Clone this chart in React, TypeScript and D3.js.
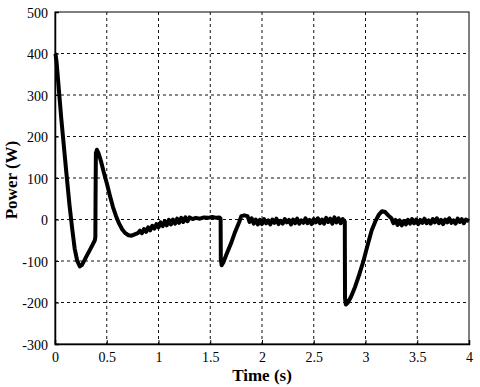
import { useEffect, useRef } from "react";
import * as d3 from "d3";

// time (s) / power (W)
const startup = [
  [0, 400], [0.005, 398], [0.015, 380], [0.025, 350], [0.04, 305], [0.06, 245], [0.08, 192],
  [0.11, 112], [0.14, 35], [0.165, -20], [0.19, -70], [0.215, -100], [0.24, -113],
  [0.26, -110], [0.285, -98], [0.31, -86], [0.34, -72], [0.365, -60], [0.385, -50],
  [0.39, -42], [0.392, 60], [0.395, 160], [0.405, 168], [0.42, 160], [0.445, 140],
  [0.47, 115], [0.5, 88], [0.53, 58], [0.56, 30], [0.59, 8], [0.62, -10], [0.65, -24],
  [0.68, -33], [0.71, -38], [0.74, -39], [0.77, -36],
];

const settle1 = [
  [0.8, -33], [0.82, -27], [0.84, -33], [0.86, -23], [0.88, -30], [0.9, -19], [0.92, -26],
  [0.94, -15], [0.96, -22], [0.98, -11], [1.0, -19], [1.02, -7], [1.04, -16], [1.06, -4],
  [1.08, -14], [1.1, -1], [1.12, -12], [1.14, 0], [1.16, -10], [1.18, 2], [1.2, -8],
  [1.22, 4], [1.24, -6], [1.26, 5], [1.28, -4], [1.3, 5], [1.33, 1], [1.36, 4], [1.4, 2],
  [1.44, 5], [1.48, 4], [1.52, 6], [1.56, 4], [1.59, 5],
];

const step1 = [
  [1.6, 2], [1.602, -95], [1.61, -110], [1.625, -104], [1.66, -82], [1.7, -58],
  [1.74, -30], [1.78, -6], [1.8, 8], [1.83, 10], [1.86, 8],
];

const settle2 = [
  [1.88, -6], [1.9, 3], [1.92, -10], [1.94, 0], [1.96, -12], [1.98, -1], [2.0, -11], [2.02, 1],
  [2.04, -9], [2.06, -2], [2.08, -12], [2.1, 0], [2.12, -8], [2.14, 2], [2.16, -11], [2.18, -3],
  [2.2, -10], [2.22, 1], [2.24, -7], [2.26, -1], [2.28, -12], [2.3, 0], [2.32, -9], [2.34, 2],
  [2.36, -10], [2.38, -2], [2.4, -8], [2.42, 3], [2.44, -9], [2.46, -1], [2.48, -11], [2.5, 1],
  [2.52, -7], [2.54, 3], [2.56, -9], [2.58, 0], [2.6, -10], [2.62, 4], [2.64, -6], [2.66, 2],
  [2.68, -10], [2.7, 5], [2.72, -7], [2.74, 3], [2.76, -9], [2.78, 1], [2.795, -5],
];

const step2 = [
  [2.8, -5], [2.802, -190], [2.81, -205], [2.83, -200], [2.86, -186], [2.9, -162],
  [2.94, -132], [2.98, -100], [3.02, -62], [3.06, -26], [3.1, -2], [3.13, 12], [3.16, 20],
  [3.19, 18], [3.22, 10], [3.25, 3],
];

const settle3 = [
  [3.27, -9], [3.29, -1], [3.31, -13], [3.33, -2], [3.35, -14], [3.37, -4], [3.39, -12],
  [3.41, -1], [3.43, -10], [3.45, 1], [3.47, -9], [3.49, 0], [3.51, -11], [3.53, -1],
  [3.55, -8], [3.57, 2], [3.59, -9], [3.61, -2], [3.63, -10], [3.65, 1], [3.67, -7],
  [3.69, 3], [3.71, -9], [3.73, -1], [3.75, -11], [3.77, 0], [3.79, -7], [3.81, 3],
  [3.83, -8], [3.85, -2], [3.87, -10], [3.89, 2], [3.91, -6], [3.93, 1], [3.95, -9],
  [3.97, 0], [4.0, -4],
];

const xTicks = [0, 0.5, 1, 1.5, 2, 2.5, 3, 3.5, 4];
const yTicks = [-300, -200, -100, 0, 100, 200, 300, 400, 500];

const serif = "Liberation Serif, Times New Roman, serif";

const App = () => {
  const container = useRef<SVGSVGElement>(null);

  useEffect(() => {
    const svg = d3.select(container.current);
    svg.selectAll("*").remove();

    const left = 55, right = 469, top = 12, bottom = 344;

    const x = d3.scaleLinear().domain([0, 4]).range([left, right]);
    const y = d3.scaleLinear().domain([-300, 500]).range([bottom, top]);

    svg.append("rect")
      .attr("width", 480).attr("height", 387)
      .style("fill", "#fff");

    // dashed grid
    svg.append("g")
      .selectAll("line")
      .data(xTicks.slice(1, -1))
      .join("line")
      .attr("x1", (d) => x(d)).attr("x2", (d) => x(d))
      .attr("y1", top).attr("y2", bottom)
      .style("stroke", "#111").style("stroke-dasharray", "3,3");

    svg.append("g")
      .selectAll("line")
      .data(yTicks.slice(1, -1))
      .join("line")
      .attr("x1", left).attr("x2", right)
      .attr("y1", (d) => y(d)).attr("y2", (d) => y(d))
      .style("stroke", "#111").style("stroke-dasharray", "3,3");

    const trace = [...startup, ...settle1, ...step1, ...settle2, ...step2, ...settle3];
    const line = d3.line<number[]>()
      .x((d) => x(d[0]))
      .y((d) => y(d[1]));

    svg.append("path")
      .datum(trace)
      .attr("d", line)
      .style("fill", "none")
      .style("stroke", "#000")
      .style("stroke-width", 4)
      .style("stroke-linejoin", "round");

    // box
    svg.append("rect")
      .attr("x", left).attr("y", top)
      .attr("width", right - left).attr("height", bottom - top)
      .style("fill", "none").style("stroke", "#000").style("stroke-width", 1);

    const xAxis = svg.append("g")
      .attr("transform", `translate(0,${bottom})`)
      .call(d3.axisBottom(x).tickValues(xTicks).tickSize(-4).tickPadding(8)
        .tickFormat((d) => String(d)));
    const yAxis = svg.append("g")
      .attr("transform", `translate(${left},0)`)
      .call(d3.axisLeft(y).tickValues(yTicks).tickSize(-4).tickPadding(7)
        .tickFormat((d) => String(d)));

    [xAxis, yAxis].forEach((g) => {
      g.attr("font-family", serif).attr("font-size", 14);
      g.select(".domain").style("stroke", "#000").style("stroke-width", 1.5);
      g.selectAll(".tick line").style("stroke", "#000");
      g.selectAll("text").attr("fill", "#000");
    });
    yAxis.selectAll("text").attr("dy", "0.36em");

    svg.append("text")
      .attr("x", 262).attr("y", 381)
      .attr("text-anchor", "middle")
      .attr("font-family", serif)
      .attr("font-size", 17).attr("font-weight", "bold")
      .text("Time (s)");

    svg.append("text")
      .attr("transform", "translate(17,180) rotate(-90)")
      .attr("text-anchor", "middle")
      .attr("font-family", serif)
      .attr("font-size", 17).attr("font-weight", "bold")
      .text("Power (W)");
  }, []);

  return (
    <svg ref={container} width={480} height={387}
      style={{ position: "absolute", left: 0, top: 0 }}></svg>
  );
};

export default App;
